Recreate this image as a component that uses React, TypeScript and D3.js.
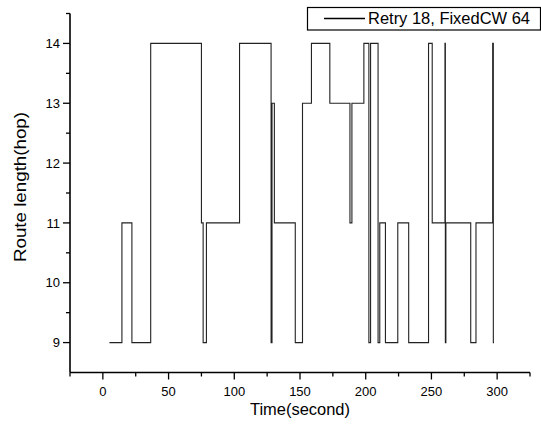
import React from 'react';
import * as d3 from 'd3';

// Step series: time (s) at which the route length changes, and the new length (hop)
const times = [5, 14.5, 22.1, 36.4, 75, 76.3, 78.8, 104, 128, 128.7, 130.5, 146.4, 151.9, 158.7, 172.7, 188, 189.5, 198.6, 202.4, 203.7, 209.4, 210.7, 215, 224.4, 232.7, 247.8, 250.6, 260.3, 260.6, 261, 279.9, 283.9, 296.6, 297.1, 297.6];
const hops = [9, 11, 9, 14, 11, 9, 11, 14, 9, 13, 11, 9, 13, 14, 13, 11, 13, 14, 9, 14, 9, 11, 9, 11, 9, 14, 11, 14, 9, 11, 9, 11, 14, 9, 9];

const xTicks = [0, 50, 100, 150, 200, 250, 300];
const xMinorTicks = [-25, 25, 75, 125, 175, 225, 275, 325];
const yTicks = [9, 10, 11, 12, 13, 14];
const yMinorTicks = [9.5, 10.5, 11.5, 12.5, 13.5, 14.5];

const seriesName = 'Retry 18, FixedCW 64';
const xTitle = 'Time(second)';
const yTitle = 'Route length(hop)';

export default function App() {
  const W = 541;
  const H = 429;
  const x = d3.scaleLinear().domain([-25, 325]).range([70, 530]);
  const y = d3.scaleLinear().domain([8.5, 14.5]).range([372.5, 13.5]);
  const pts: [number, number][] = times.map((t, i) => [t, hops[i]]);
  const line = d3
    .line<[number, number]>()
    .x((d) => x(d[0]))
    .y((d) => y(d[1]))
    .curve(d3.curveStepAfter);

  const font = '"Liberation Sans", Arial, sans-serif';
  const x0 = x.range()[0];
  const yb = y.range()[0];

  return (
    <svg
      width={W}
      height={H}
      viewBox={`0 0 ${W} ${H}`}
      style={{ position: 'absolute', left: 0, top: 0, background: '#fff' }}
      fontFamily={font}
    >
      <rect x={0} y={0} width={W} height={H} fill="#fff" />
      {/* data line */}
      <path d={line(pts) || ''} fill="none" stroke="#222" strokeWidth={1.1} />

      {/* axes */}
      <line x1={x0} x2={x.range()[1]} y1={yb} y2={yb} stroke="#000" strokeWidth={1.6} />
      <line x1={x0} x2={x0} y1={y.range()[1]} y2={yb} stroke="#000" strokeWidth={1.6} />

      {xTicks.map((t) => (
        <g key={'xt' + t}>
          <line x1={x(t)} x2={x(t)} y1={yb} y2={yb + 7} stroke="#000" strokeWidth={1.3} />
          <text x={x(t)} y={396} fontSize={13} textAnchor="middle" fill="#000">
            {t}
          </text>
        </g>
      ))}
      {xMinorTicks.map((t) => (
        <line key={'xm' + t} x1={x(t)} x2={x(t)} y1={yb} y2={yb + 4} stroke="#000" strokeWidth={1.3} />
      ))}
      {yTicks.map((v) => (
        <g key={'yt' + v}>
          <line x1={x0 - 7} x2={x0} y1={y(v)} y2={y(v)} stroke="#000" strokeWidth={1.3} />
          <text x={60} y={y(v) + 4.6} fontSize={13} textAnchor="end" fill="#000">
            {v}
          </text>
        </g>
      ))}
      {yMinorTicks.map((v) => (
        <line key={'ym' + v} x1={x0 - 4} x2={x0} y1={y(v)} y2={y(v)} stroke="#000" strokeWidth={1.3} />
      ))}

      {/* axis titles */}
      <text x={300} y={415} fontSize={16} textAnchor="middle" fill="#000" textLength={100} lengthAdjust="spacingAndGlyphs">
        {xTitle}
      </text>
      <text
        transform={`translate(26,187) rotate(-90)`}
        fontSize={16}
        textAnchor="middle"
        fill="#000"
        textLength={150}
        lengthAdjust="spacingAndGlyphs"
      >
        {yTitle}
      </text>

      {/* legend */}
      <rect x={307.5} y={7.5} width={233} height={22.5} fill="#fff" stroke="#000" strokeWidth={1.2} />
      <line x1={324} x2={365} y1={18.5} y2={18.5} stroke="#000" strokeWidth={1.3} />
      <text x={368} y={23.5} fontSize={16} fill="#000" textLength={162} lengthAdjust="spacingAndGlyphs">
        {seriesName}
      </text>
    </svg>
  );
}
